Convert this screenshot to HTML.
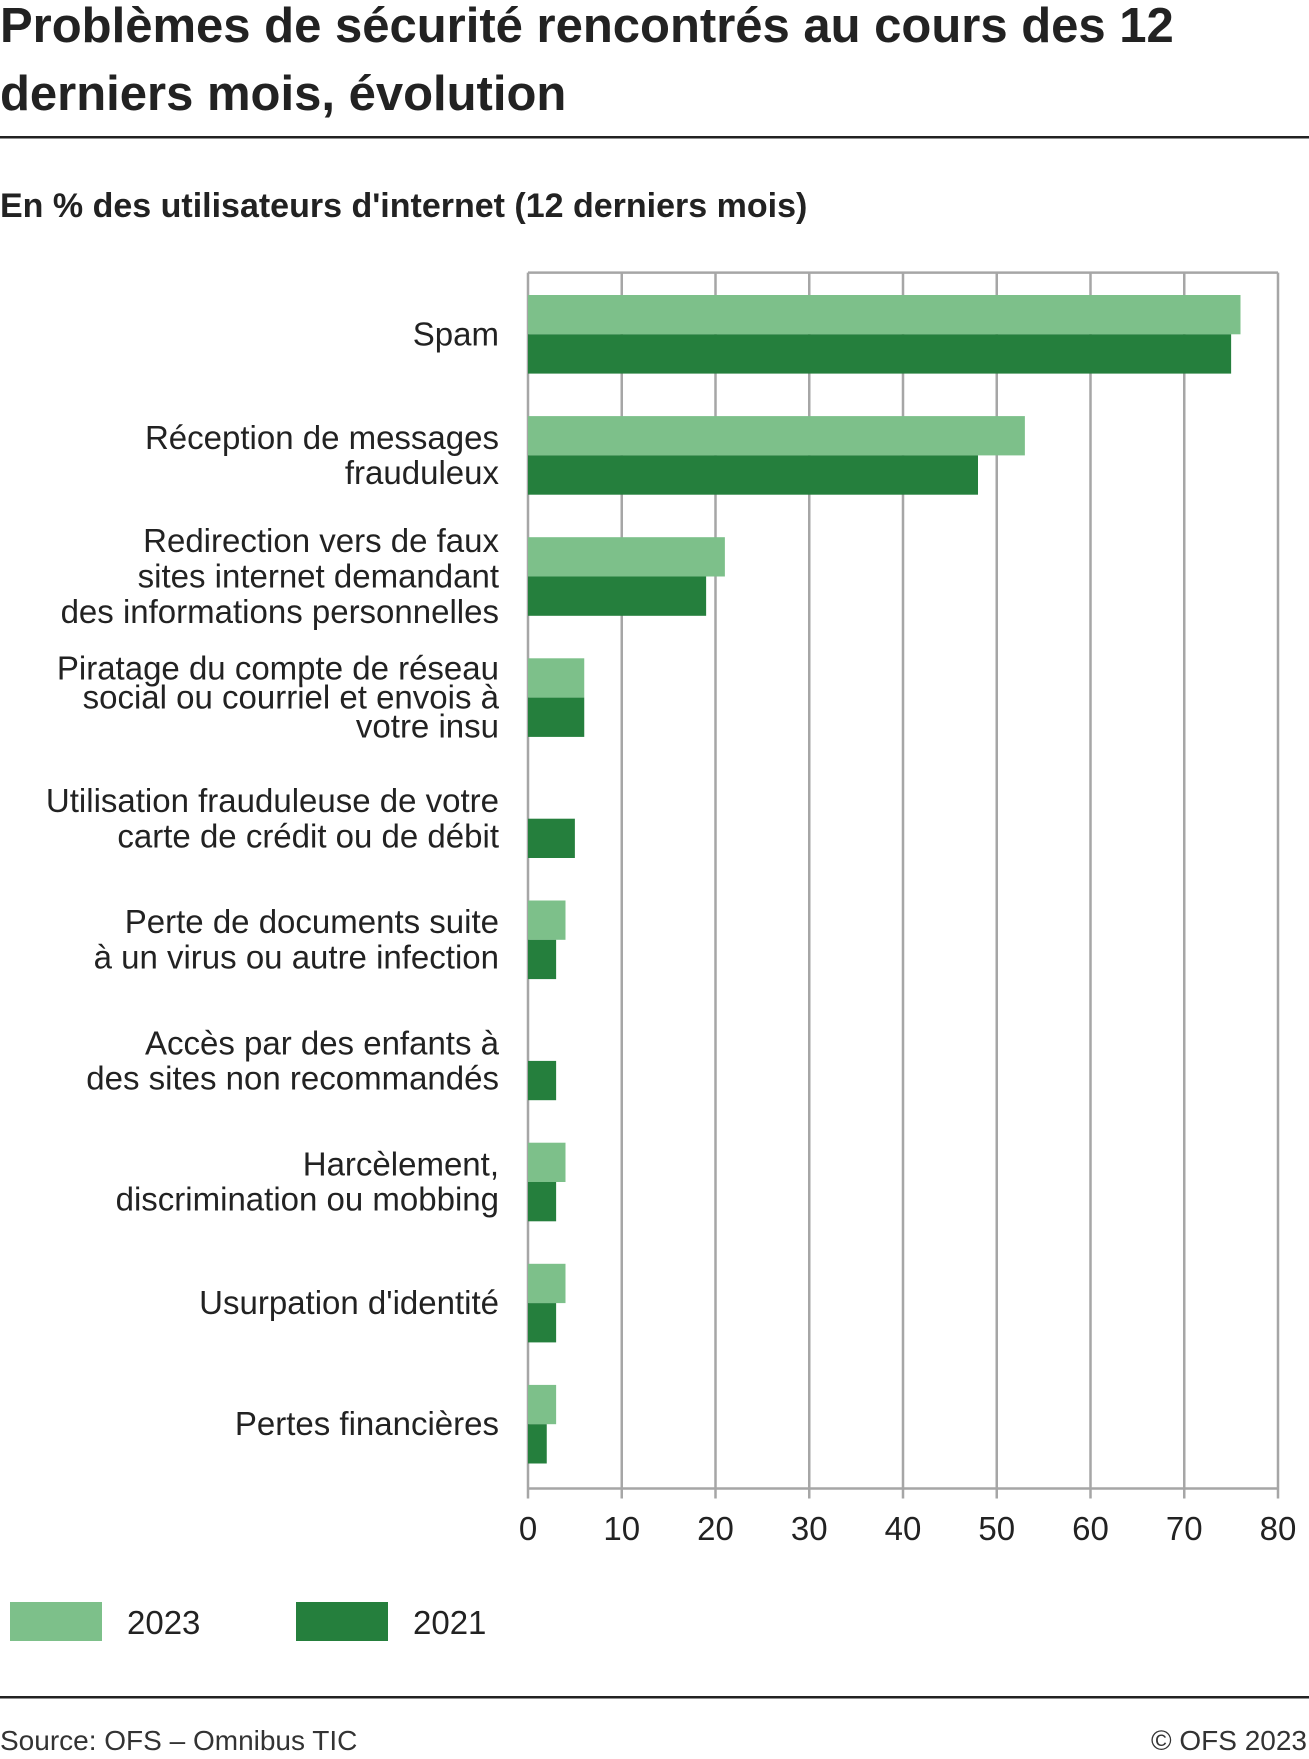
<!DOCTYPE html>
<html><head><meta charset="utf-8"><style>
body{margin:0;background:#fff;font-family:"Liberation Sans",sans-serif;}
svg{display:block}
</style></head><body>
<svg id="c" width="1309" height="1759" viewBox="0 0 1309 1759">
<text x="0" y="42" font-size="49" font-weight="bold" fill="#222">Problèmes de sécurité rencontrés au cours des 12</text>
<text x="0" y="110" font-size="49" font-weight="bold" fill="#222">derniers mois, évolution</text>
<rect x="0" y="136" width="1309" height="2.5" fill="#222"/>
<text x="0" y="217" font-size="34" font-weight="bold" fill="#222">En % des utilisateurs d'internet (12 derniers mois)</text>
<g id="grid"></g><g id="bars"></g><g id="labels"></g>
<rect x="10" y="1602" width="92" height="39" fill="#7dc08a"/>
<text x="127" y="1634" font-size="33" fill="#222">2023</text>
<rect x="296" y="1602" width="92" height="39" fill="#257f3d"/>
<text x="413" y="1634" font-size="33" fill="#222">2021</text>
<rect x="0" y="1696" width="1309" height="2.5" fill="#222"/>
<text x="0" y="1750" font-size="28" fill="#333">Source: OFS – Omnibus TIC</text>
<text x="1307" y="1750" font-size="28" fill="#333" text-anchor="end">© OFS 2023</text>
</svg>
<script>
const categories=[["Spam"],["Réception de messages","frauduleux"],["Redirection vers de faux","sites internet demandant","des informations personnelles"],["Piratage du compte de réseau","social ou courriel et envois à","votre insu"],["Utilisation frauduleuse de votre","carte de crédit ou de débit"],["Perte de documents suite","à un virus ou autre infection"],["Accès par des enfants à","des sites non recommandés"],["Harcèlement,","discrimination ou mobbing"],["Usurpation d'identité"],["Pertes financières"]];
const values2023=[76,53,21,6,null,4,null,4,4,3];
const values2021=[75,48,19,6,5,3,3,3,3,2];
const ticks=[0,10,20,30,40,50,60,70,80];
const NS="http://www.w3.org/2000/svg";
const L=528,R=1278,T=272.6,B=1488.5,maxV=80;
const xs=v=>L+(v/maxV)*(R-L);
const step=121.1,bh=39.3,first=295;
function el(t,a,p){const e=document.createElementNS(NS,t);for(const k in a)e.setAttribute(k,a[k]);p.appendChild(e);return e;}
const g=document.getElementById('grid'),bg=document.getElementById('bars'),lg=document.getElementById('labels');
ticks.forEach(t=>{
 const ln=el('line',{x1:xs(t),x2:xs(t),y1:T,y2:B+10,stroke:'#a6a6a6','stroke-width':2.5},g);
 
 
 const tx=el('text',{x:xs(t),y:1540,'font-size':33,fill:'#222','text-anchor':'middle'},g);
 tx.textContent=t;
 
 
});
const topBorder=el('line',{x1:L,x2:R,y1:T,y2:T,stroke:'#a6a6a6','stroke-width':2.5},g);


const xAxis=el('line',{x1:L,x2:R,y1:B,y2:B,stroke:'#a6a6a6','stroke-width':2.5},g);


categories.forEach((c,i)=>{
 const y0=first+i*step;
 if(values2023[i]!=null){
  const r=el('rect',{x:L,y:y0,width:xs(values2023[i])-L,height:bh,fill:'#7dc08a'},bg);
  
  
 }
 const r2=el('rect',{x:L,y:y0+bh,width:xs(values2021[i])-L,height:bh,fill:'#257f3d'},bg);
 
 
 const cy=y0+bh, lh=(i==3)?29:35.3;
 c.forEach((s,j)=>{
  const t=el('text',{x:499,y:cy+(j-(c.length-1)/2)*lh+11,'font-size':33,fill:'#222','text-anchor':'end'},lg);
  t.textContent=s;
  
  
 });
});
</script>
</body></html>
